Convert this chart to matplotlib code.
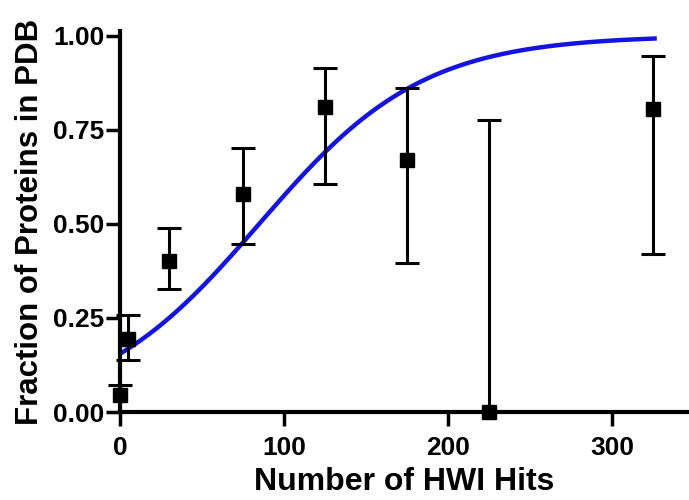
import numpy as np
import matplotlib
matplotlib.use('Agg')
import matplotlib.pyplot as plt

# binned data: HWI hit count vs. fraction of proteins found in PDB
hits = [0, 5, 30, 75, 125, 175, 225, 325]
fraction = [0.045, 0.195, 0.40, 0.58, 0.81, 0.67, 0.0, 0.805]
err_low = [0.045, 0.057, 0.072, 0.133, 0.205, 0.275, 0.0, 0.385]
err_high = [0.028, 0.062, 0.088, 0.12, 0.105, 0.19, 0.775, 0.14]

# logistic fit: y = 1 / (1 + exp(-(x - x_mid) / scale))
fit_x_mid = 85.0
fit_scale = 50.0
fit_x_max = 326

plt.rcParams['font.family'] = ['Liberation Sans', 'DejaVu Sans']
plt.rcParams['font.weight'] = 'bold'

fig = plt.figure(figsize=(6.89, 5), dpi=100)
ax = fig.add_axes([0.174, 0.176, 0.826, 0.762])

# fitted curve
xs = np.linspace(0, fit_x_max, 300)
ax.plot(xs, 1 / (1 + np.exp(-(xs - fit_x_mid) / fit_scale)), color='#1414e0', lw=3.2, zorder=2)

# data points with error bars
ax.errorbar(hits, fraction, yerr=[err_low, err_high], fmt='s', color='black',
            markersize=10, elinewidth=2.2, capsize=8.5, capthick=2.2,
            zorder=3, clip_on=False)

ax.set_xlim(0, 347)
ax.set_ylim(0, 1.012)
ax.set_xticks([0, 100, 200, 300])
ax.set_yticks([0, 0.25, 0.5, 0.75, 1.0])
ax.set_yticklabels(['0.00', '0.25', '0.50', '0.75', '1.00'])

for side in ['top', 'right']:
    ax.spines[side].set_visible(False)
for side in ['left', 'bottom']:
    ax.spines[side].set_linewidth(3)
ax.tick_params(axis='both', length=10, width=2.5, labelsize=19)
ax.tick_params(axis='x', pad=7)
ax.tick_params(axis='y', pad=1)

ax.set_xlabel('Number of HWI Hits', fontsize=23, fontweight='bold', labelpad=5)
ax.set_ylabel('Fraction of Proteins in PDB', fontsize=22.5, fontweight='bold', labelpad=6)

plt.savefig('out.png', dpi=100)
